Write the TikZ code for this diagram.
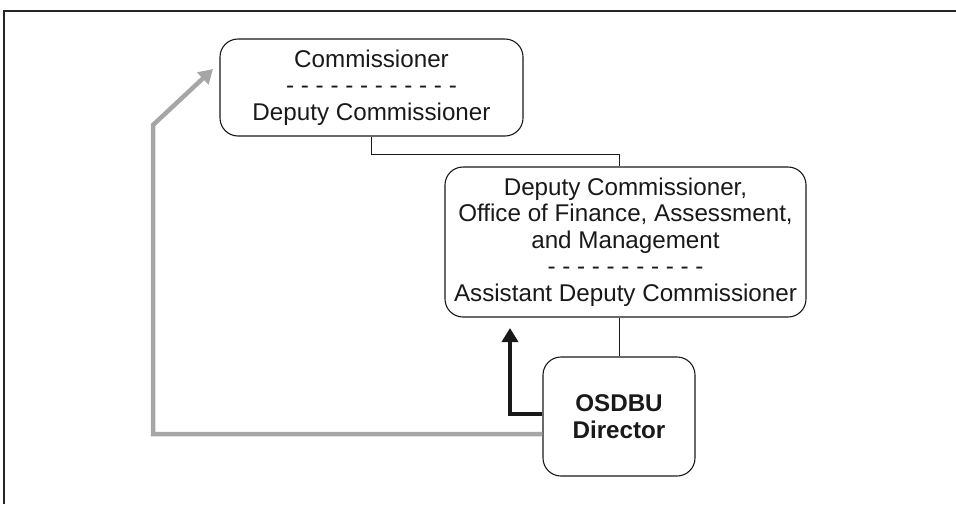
\documentclass[tikz,border=0pt]{standalone}
\usepackage{fontspec}
\setmainfont{Liberation Sans}
\usetikzlibrary{arrows.meta}

\begin{document}
\begin{tikzpicture}[
x=1pt, y=-1pt,
unit/.style={
	draw=black!90, line width=1.1pt,
	rounded corners=18pt, inner sep=0pt,
	align=center, text=black!90,
	font=\fontsize{24.2}{26.5}\selectfont
},
link/.style={draw=black!90, line width=1pt},
report/.style={line width=4.5pt, -{Triangle[length=14pt,width=16pt]}}
]
\useasboundingbox (0,0) rectangle (956,504);
% frame
\draw[line width=2.2pt, black!85] (4,504) -- (4,11) -- (956,11);
% units
\node[unit, minimum width=303pt, minimum height=97pt] (comm) at (371.5,87.5)
	{Commissioner\\- - - - - - - - - - - -\\Deputy Commissioner};
\node[unit, minimum width=361pt, minimum height=150pt] (fam) at (625.5,242)
	{Deputy Commissioner,\\Office of Finance, Assessment,\\and Management\\- - - - - - - - - - -\\Assistant Deputy Commissioner};
\node[unit, minimum width=152pt, minimum height=119pt, font=\fontsize{24.2}{26.5}\selectfont\bfseries] (osdbu) at (619,416.5)
	{OSDBU\\Director};
% lines
\draw[link] (comm.south) -- ++(0,18) -| (osdbu.north |- fam.north);
\draw[link] (osdbu.north |- fam.south) -- (osdbu.north);
% reporting arrows
\coordinate (up) at (510,328);
\coordinate (turn) at (153,125);
\coordinate (tip) at (213,69);
\draw[report, black!90] ([yshift=2.5pt]osdbu.west) -| (up);
\draw[report, black!35] ([yshift=-17.5pt]osdbu.west) -| (turn) -- (tip);
\end{tikzpicture}
\end{document}
